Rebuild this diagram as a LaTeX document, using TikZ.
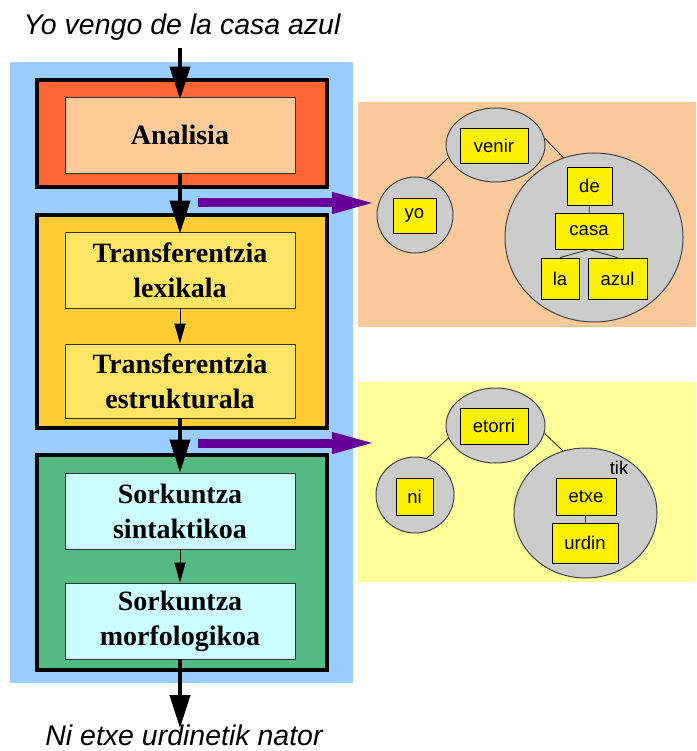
\documentclass[tikz,border=0pt]{standalone}
\usepackage{fontspec}
\setmainfont{Liberation Serif}
\setsansfont{Liberation Sans}
\usetikzlibrary{arrows.meta,shapes.geometric}
\definecolor{bgblue}{HTML}{99CCFF}
\definecolor{orangered}{HTML}{FF6633}
\definecolor{peach}{HTML}{FFCC99}
\definecolor{golden}{HTML}{FFCC33}
\definecolor{lightyel}{HTML}{FFE566}
\definecolor{greenbox}{HTML}{52BA82}
\definecolor{lightcyan}{HTML}{CCFFFF}
\definecolor{panelpeach}{HTML}{FCCA9A}
\definecolor{panelyel}{HTML}{FFFF99}
\definecolor{purplear}{HTML}{660099}
\definecolor{bubblegray}{HTML}{CCCCCC}
\definecolor{bubbleline}{HTML}{444444}
\begin{document}
\begin{tikzpicture}[x=1pt,y=-1pt,
  outerbox/.style={draw=black, line width=4.5pt, minimum width=290pt, inner sep=0pt},
  innerbox/.style={draw=black!80, line width=0.8pt, minimum width=230pt, minimum height=76pt, inner sep=0pt,
    align=center, font=\bfseries\fontsize{28}{35}\selectfont},
  bigarrow/.style={line width=4pt, -{Triangle[width=20pt,length=33pt]}},
  smallarrow/.style={line width=1pt, -{Triangle[width=11pt,length=20pt]}},
  purplearrow/.style={draw=purplear, line width=9pt, -{Triangle[width=19pt,length=45pt]}},
  bubble/.style={ellipse, draw=bubbleline, fill=bubblegray, line width=1pt, inner sep=0pt},
  leaf/.style={draw=black, fill=yellow, line width=0.9pt, inner sep=0pt,
    font=\sffamily\fontsize{18.5}{22}\selectfont},
  treeline/.style={draw=black!80, line width=0.9pt},
  sentence/.style={inner sep=0pt, font=\sffamily\itshape\fontsize{28.5}{34}\selectfont}
]
\useasboundingbox (0,0) rectangle (696,751);

% backgrounds
\fill[bgblue] (10,62) rectangle (353,683);
\fill[panelpeach] (358,102) rectangle (696,327);
\fill[panelyel] (358,382) rectangle (696,582);

% sentences
\node[sentence, anchor=base] (title) at (182,35) {Yo vengo de la casa azul};
\node[sentence, anchor=base] (result) at (184,745) {Ni etxe urdinetik nator};

% pipeline boxes
\node[outerbox, fill=orangered, minimum height=107pt] (oA) at (182,133.5) {};
\node[innerbox, fill=peach] (iA) at (180,135) {Analisia};

\node[outerbox, fill=golden, minimum height=213pt] (oT) at (182,321.5) {};
\node[innerbox, fill=lightyel] (iT1) at (180,270) {Transferentzia\\lexikala};
\node[innerbox, fill=lightyel, minimum height=74pt] (iT2) at (180,381) {Transferentzia\\estrukturala};

\node[outerbox, fill=greenbox, minimum height=215pt] (oS) at (182,562.5) {};
\node[innerbox, fill=lightcyan] (iS1) at (180,511) {Sorkuntza\\sintaktikoa};
\node[innerbox, fill=lightcyan] (iS2) at (180,621) {Sorkuntza\\morfologikoa};

% pipeline arrows
\coordinate (topin) at (180,48);
\coordinate (botout) at (180,728);
\draw[bigarrow] (topin) -- ([yshift=-3pt]iA.north);
\draw[bigarrow] (iA.south) -- ([yshift=-2pt]iT1.north);
\draw[smallarrow] (iT1.south) -- (iT2.north);
\draw[bigarrow] (iT2.south) -- (iS1.north);
\draw[smallarrow] (iS1.south) -- (iS2.north);
\draw[bigarrow] (iS2.south) -- (botout);

% purple arrows
\coordinate (p1s) at (198,203);
\coordinate (p1e) at (377,203);
\coordinate (p2s) at (198,443);
\coordinate (p2e) at (377,443);
\draw[purplearrow] (p1s) -- (p1e);
\draw[purplearrow] (p2s) -- (p2e);

% tree 1
\node[bubble, minimum width=99pt, minimum height=74pt] (venirB) at (495.5,145) {};
\node[bubble, minimum width=76pt, minimum height=76pt] (yoB) at (415,215) {};
\node[bubble, minimum width=178pt, minimum height=169pt] (bigB) at (594,237.5) {};
\draw[treeline] (venirB.195) -- (yoB.72);
\draw[treeline] (venirB.8) -- (bigB.111);
\node[leaf, minimum width=68pt, minimum height=35pt] (venir) at (494,145.5) {venir};
\node[leaf, minimum width=43pt, minimum height=35pt] (yo) at (414.5,215.5) {yo};
\node[leaf, minimum width=45pt, minimum height=38pt] (de) at (589.5,186) {de};
\node[leaf, minimum width=68pt, minimum height=36pt] (casa) at (589,231) {casa};
\node[leaf, minimum width=38pt, minimum height=41pt] (la) at (560,278.5) {la};
\node[leaf, minimum width=59pt, minimum height=41pt] (azul) at (617.5,278.5) {azul};
\draw[treeline] (de) -- (casa);
\draw[treeline] (casa.south) -- (la.north);
\draw[treeline] (casa.south) -- (azul.north);

% tree 2
\node[bubble, minimum width=99pt, minimum height=75pt] (etorriB) at (495.5,425.5) {};
\node[bubble, minimum width=78pt, minimum height=76pt] (niB) at (415,495) {};
\node[bubble, minimum width=143pt, minimum height=130pt] (big2B) at (585.5,513) {};
\draw[treeline] (etorriB.195) -- (niB.72);
\draw[treeline] (etorriB.351) -- (big2B.110);
\node[leaf, minimum width=68pt, minimum height=36pt] (etorri) at (494,426) {etorri};
\node[leaf, minimum width=37pt, minimum height=37pt] (ni) at (414.5,496.5) {ni};
\node[leaf, minimum width=60pt, minimum height=37pt] (etxe) at (586,496.5) {etxe};
\node[leaf, minimum width=66pt, minimum height=40pt] (urdin) at (585,543) {urdin};
\draw[treeline] (etxe) -- (urdin);
\node[inner sep=0pt, font=\sffamily\fontsize{18.5}{22}\selectfont] (tik) at (619,468) {tik};
\end{tikzpicture}
\end{document}
